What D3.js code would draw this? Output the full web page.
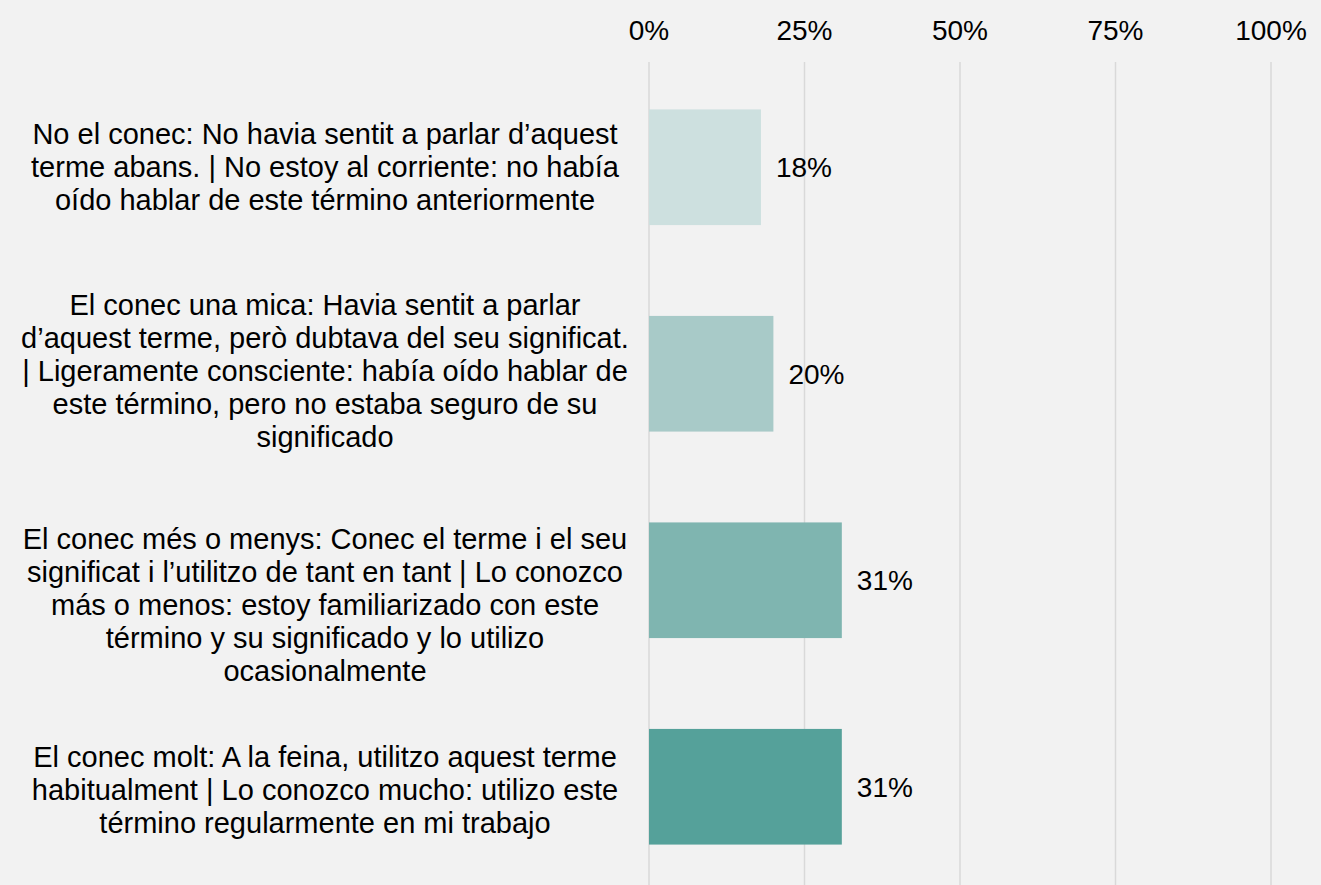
<!DOCTYPE html>
<html lang="ca">
<head>
    <meta charset="UTF-8">
    <title>Coneixement del terme</title>
    <script src="https://d3js.org/d3.v7.min.js"></script>
    <style>
        html, body { margin: 0; padding: 0; background: #f2f2f2; }
        svg { display: block; font-family: "Liberation Sans", Arial, sans-serif; }
    </style>
</head>
<body>
    <svg width="1321" height="885"></svg>
    <script>
        // categories (line breaks as in the original)
        const categories = [
            "No el conec: No havia sentit a parlar d\u2019aquest\nterme abans. | No estoy al corriente: no había\noído hablar de este término anteriormente",
            "El conec una mica: Havia sentit a parlar\nd\u2019aquest terme, però dubtava del seu significat.\n| Ligeramente consciente: había oído hablar de\neste término, pero no estaba seguro de su\nsignificado",
            "El conec més o menys: Conec el terme i el seu\nsignificat i l\u2019utilitzo de tant en tant | Lo conozco\nmás o menos: estoy familiarizado con este\ntérmino y su significado y lo utilizo\nocasionalmente",
            "El conec molt: A la feina, utilitzo aquest terme\nhabitualment | Lo conozco mucho: utilizo este\ntérmino regularmente en mi trabajo"
        ];
        const values = [0.18, 0.20, 0.31, 0.31];
        const colors = ["#cde0df", "#a8cac8", "#7fb5b0", "#55a19a"];
        const ticks = [0, 0.25, 0.5, 0.75, 1];

        const svg = d3.select('svg');
        const fontSize = 29;
        const lineH = 33;
        // the third label sits a bit lower than its bar in the original
        const labelNudge = [0, -3, 25, 3];

        const x = d3.scaleLinear().domain([0, 1]).range([649, 1271]);
        const y = d3.scaleBand()
            .domain(d3.range(categories.length))
            .range([64, 890])
            .paddingInner(0.44)
            .paddingOuter(0.22);

        // grid
        svg.append('g')
            .selectAll('line')
            .data(ticks)
            .join('line')
            .attr('x1', d => x(d)).attr('x2', d => x(d))
            .attr('y1', 62).attr('y2', 885)
            .attr('stroke', '#d9d9d9')
            .attr('stroke-width', 1.5);

        // top axis labels
        svg.append('g')
            .selectAll('text')
            .data(ticks)
            .join('text')
            .attr('x', d => x(d))
            .attr('y', 40)
            .attr('text-anchor', 'middle')
            .attr('font-size', 28)
            .attr('fill', '#000')
            .text(d => d3.format('.0%')(d));

        // bars
        svg.append('g')
            .selectAll('rect')
            .data(values)
            .join('rect')
            .attr('x', x(0))
            .attr('y', (d, i) => y(i))
            .attr('width', d => x(d) - x(0))
            .attr('height', y.bandwidth())
            .attr('fill', (d, i) => colors[i]);

        // value labels
        svg.append('g')
            .selectAll('text')
            .data(values)
            .join('text')
            .attr('x', d => x(d) + 15)
            .attr('y', (d, i) => y(i) + y.bandwidth() / 2)
            .attr('dy', '0.35em')
            .attr('font-size', 28)
            .attr('fill', '#000')
            .text(d => d3.format('.0%')(d));

        // category labels
        const labels = svg.append('g')
            .selectAll('text')
            .data(categories)
            .join('text')
            .attr('text-anchor', 'middle')
            .attr('font-size', fontSize)
            .attr('fill', '#000');

        labels.each(function (d, i) {
            const lines = d.split('\n');
            const cy = y(i) + y.bandwidth() / 2 + labelNudge[i];
            const top = cy - (lines.length - 1) * lineH / 2;
            d3.select(this).selectAll('tspan')
                .data(lines)
                .join('tspan')
                .attr('x', 325)
                .attr('y', (l, j) => top + j * lineH)
                .attr('dy', '0.35em')
                .text(l => l);
        });
    </script>
</body>
</html>
